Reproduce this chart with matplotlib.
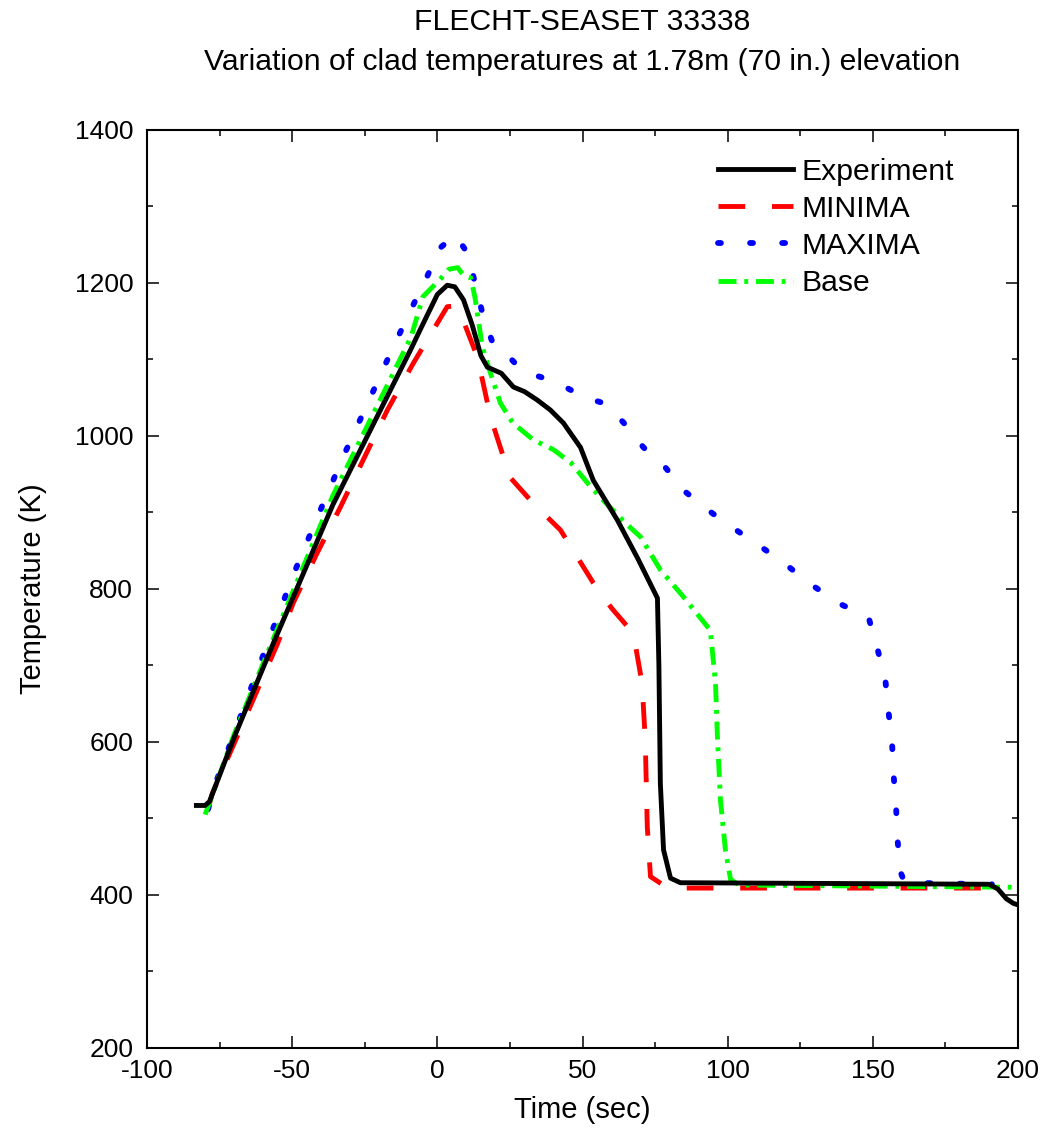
import matplotlib
matplotlib.use('Agg')
import matplotlib.pyplot as plt
from matplotlib.ticker import MultipleLocator

plt.rcParams['font.family'] = ['Liberation Sans', 'DejaVu Sans']
plt.rcParams['axes.unicode_minus'] = False

# Experiment (black solid)
exp_t = [-83, -80, -78.5, -70, -56.5, -36, -20, -9.3, -5.9, 0, 3.4, 6, 9, 12, 15, 17.2,
         22, 26.2, 30, 34.4, 38.9, 43.4, 49.3, 53.7, 62, 69, 75.8, 76.3, 76.8, 77.9,
         80.3, 83.7, 190, 193, 196, 198.4, 200]
exp_T = [517, 517, 522, 606, 729, 910, 1031, 1112, 1139, 1185, 1197, 1195, 1178, 1145, 1105, 1090,
         1082, 1064, 1058, 1047, 1034, 1017, 985, 942, 890, 840, 788, 700, 546, 459,
         422, 416, 414, 408, 395, 389, 387]

# MINIMA (red dashed)
min_t = [-79, -77.5, -70, -55, -49.6, -41.4, -33.4, -25.5, -17.2, -8.3, 3.4, 6.5, 9, 13.8,
         18.3, 25, 33, 42.4, 53.7, 60, 67.5, 70.5, 71.6, 72.3, 73.4, 77, 81, 191.5]
min_T = [512, 533, 598, 729, 782, 847, 907, 969, 1034, 1095, 1169, 1170, 1150, 1103,
         1025, 946, 912, 877, 808, 775, 742, 677, 603, 489, 424, 415, 409, 409]

# MAXIMA (blue dotted)
max_t = [-79, -76, -64.4, -56.8, -48.9, -40.3, -31.7, -22.4, -18, -13.6, -8.6, -3.7, 1, 6.2,
         10.7, 13.1, 15.9, 19.3, 24, 29.6, 36.5, 44, 51, 57.2, 64, 71, 78.5, 85.4, 94.7,
         103.7, 113, 121, 129, 139.5, 148.5, 151.5, 154.3, 155.4, 156.6, 157.2, 158, 158.5,
         159.5, 161, 191]
max_T = [512, 550, 668, 746, 825, 903, 979, 1056, 1093, 1129, 1169, 1207, 1246, 1263,
         1237, 1197, 1155, 1119, 1106, 1084, 1076, 1064, 1050, 1043, 1018, 985, 959, 927, 899,
         875, 851, 829, 805, 779, 763, 723, 681, 639, 599, 554, 514, 472,
         430, 416, 414]

# Base (green dash-dot)
base_t = [-80, -70, -56.5, -36, -20, -9, -5, 1, 4, 7, 9, 11.5, 13, 15.5, 18.3, 21.7, 26, 33,
          40, 46, 52.7, 58.6, 65.4, 70, 76.8, 84.7, 94, 95.8, 96.4, 97.5, 99.2, 101, 104, 200]
base_T = [505, 610, 735, 922, 1045, 1130, 1182, 1205, 1218, 1220, 1210, 1207, 1180, 1116,
          1082, 1043, 1017, 995, 982, 965, 934, 910, 884, 868, 825, 790, 746, 677, 612, 524,
          459, 420, 413, 410]

fig = plt.figure(figsize=(10.45, 11.37), dpi=100)
ax = fig.add_axes([0.1407, 0.0783, 0.8335, 0.8074])

lw = 3.5
ax.plot(exp_t, exp_T, color='black', lw=3.5, label='Experiment', zorder=4)
ax.plot(min_t, min_T, color='#ff0000', lw=lw, linestyle=(0, (5.5, 5.5)), label='MINIMA', zorder=3)
ax.plot(max_t, max_T, color='#0000ff', lw=4.2, linestyle=(0, (0.5, 5.0)),
        dash_capstyle='round', label='MAXIMA', zorder=3)
ax.plot(base_t, base_T, color='#00ff00', lw=lw, linestyle=(0, (3.7, 1.6, 0.8, 1.6)),
        label='Base', zorder=3)

ax.set_xlim(-100, 200)
ax.set_ylim(200, 1400)
ax.xaxis.set_major_locator(MultipleLocator(50))
ax.xaxis.set_minor_locator(MultipleLocator(25))
ax.yaxis.set_major_locator(MultipleLocator(200))
ax.yaxis.set_minor_locator(MultipleLocator(100))
ax.tick_params(which='both', direction='in', top=True, right=True, width=1.1, labelsize=19)
ax.tick_params(which='major', length=8.5)
ax.tick_params(which='minor', length=4.5)
ax.tick_params(axis='y', pad=10)
ax.tick_params(axis='x', pad=8)
for s in ax.spines.values():
    s.set_linewidth(1.5)

ax.set_xlabel('Time (sec)', fontsize=21)
ax.set_ylabel('Temperature (K)', fontsize=21)
ax.xaxis.set_label_coords(0.5, -0.052)
ax.yaxis.set_label_coords(-0.115, 0.5)

ax.legend(loc='upper left', bbox_to_anchor=(0.6556, 0.9695), frameon=False, fontsize=21.7,
          handlelength=2.5, handletextpad=0.27, labelspacing=0.3,
          borderpad=0, borderaxespad=0)

fig.text(0.557, 1 - 22 / 1137, 'FLECHT-SEASET 33338', ha='center', va='center', fontsize=21.7)
fig.text(0.557, 1 - 62 / 1137, 'Variation of clad temperatures at 1.78m (70 in.) elevation',
         ha='center', va='center', fontsize=21.7)

fig.savefig('out.png', dpi=100)
